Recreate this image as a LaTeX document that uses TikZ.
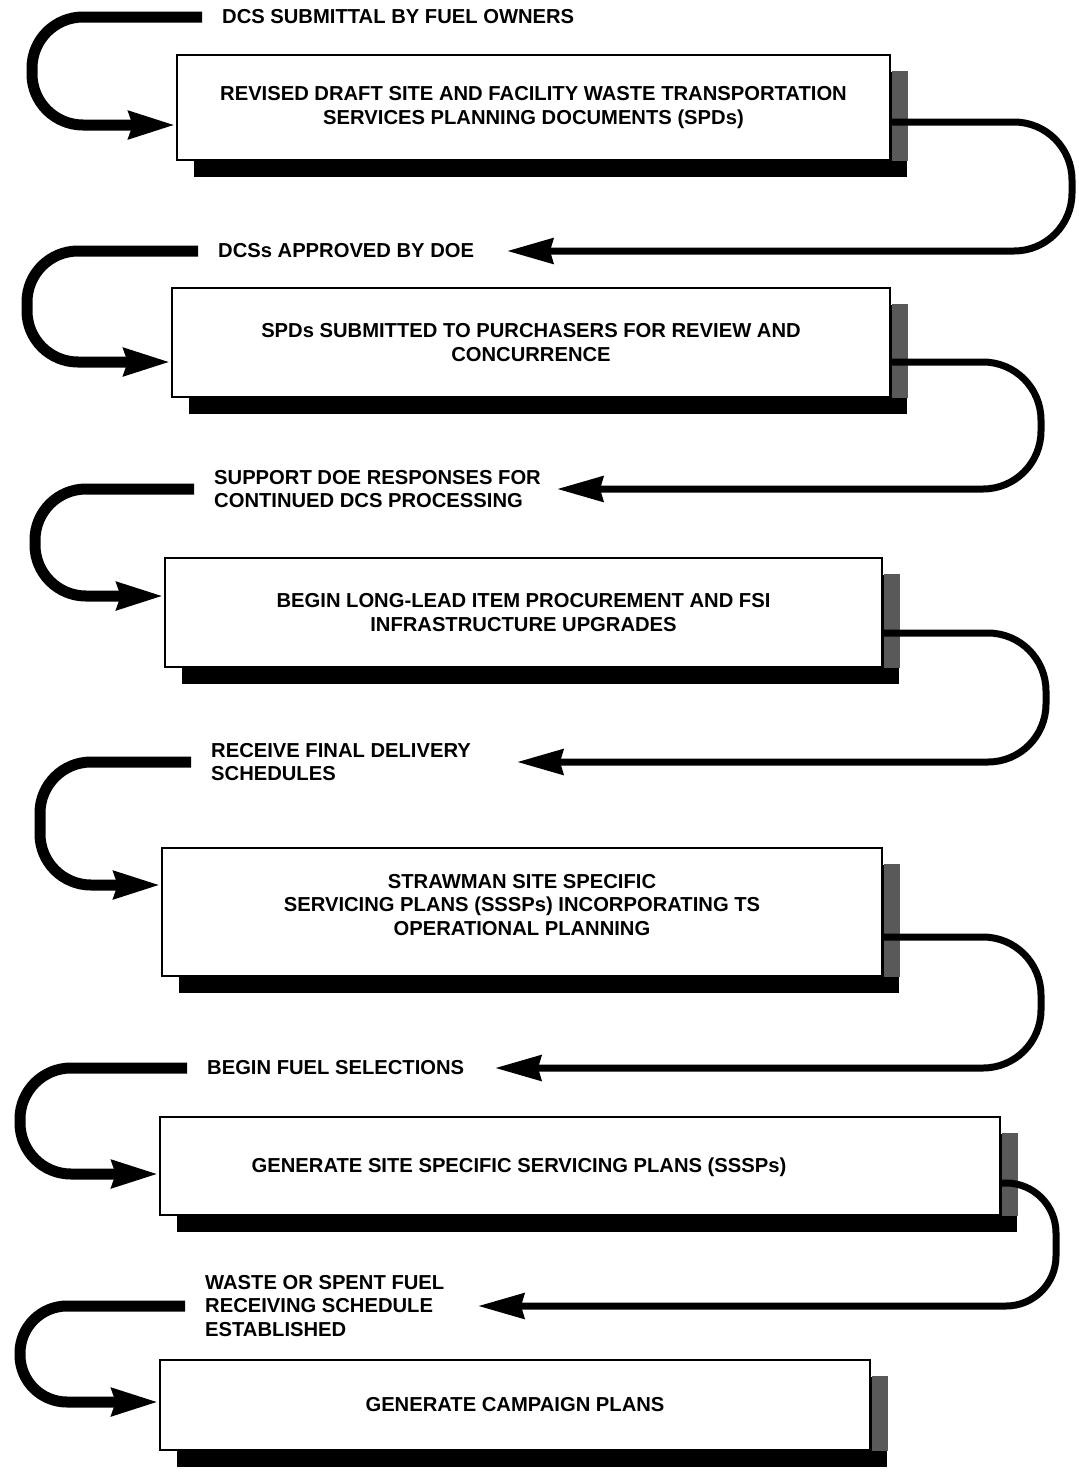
\documentclass[tikz,border=0pt]{standalone}
\usepackage{fontspec}
\newfontfamily\diafont{Liberation Sans}
\usetikzlibrary{arrows.meta,shadows}

\begin{document}
\begin{tikzpicture}[
  x=1pt, y=-1pt,
  font=\diafont\bfseries\fontsize{20.2}{23.5}\selectfont,
  box/.style={draw, line width=2.4pt, fill=white, align=center, inner sep=0pt,
    drop shadow={shadow xshift=17pt, shadow yshift=-17pt, fill=black, opacity=1}},
  strip/.style={fill=black!65},
  lbl/.style={anchor=west, align=left, inner sep=0pt},
  lloop/.style={line width=11pt, rounded corners=51pt, -{Stealth[length=46pt, width=26pt, inset=3pt]}},
  rloop/.style={line width=7pt, rounded corners=58pt, -{Stealth[length=46pt, width=25pt, inset=3pt]}}
]
\useasboundingbox (0,0) rectangle (1079,1473);

% boxes
\node[box, minimum width=713pt, minimum height=105pt] (b1) at (533.5,107.5)
  {REVISED DRAFT SITE AND FACILITY WASTE TRANSPORTATION\\SERVICES PLANNING DOCUMENTS (SPDs)};
\node[box, minimum width=718pt, minimum height=109pt] (b2) at (531,342.5)
  {SPDs SUBMITTED TO PURCHASERS FOR REVIEW AND\\CONCURRENCE};
\node[box, minimum width=717pt, minimum height=109pt] (b3) at (523.5,612.5)
  {BEGIN LONG-LEAD ITEM PROCUREMENT AND FSI\\INFRASTRUCTURE UPGRADES};
\node[box, minimum width=720pt, minimum height=128pt] (b4) at (522,912)
  {STRAWMAN SITE SPECIFIC\\SERVICING PLANS (SSSPs) INCORPORATING TS\\OPERATIONAL PLANNING\\[-8.5pt]};
\node[box, minimum width=840pt, minimum height=98pt] (b5) at (580,1166) {};
\node (t5) at (519,1167) {GENERATE SITE SPECIFIC SERVICING PLANS (SSSPs)};
\node[box, minimum width=710pt, minimum height=90pt] (b6) at (515,1405)
  {GENERATE CAMPAIGN PLANS};

% lighter right-hand part of the shadows
\foreach \b in {b1,b2,b3,b4,b5,b6}
  \fill[strip] ([xshift=1.2pt, yshift=-17pt]\b.north east) rectangle ([xshift=17pt]\b.south east);

% labels between the boxes
\node[lbl] (l1) at (222,17) {DCS SUBMITTAL BY FUEL OWNERS};
\node[lbl] (l2) at (218,251) {DCSs APPROVED BY DOE};
\node[lbl] (l3) at (214,489) {SUPPORT DOE RESPONSES FOR\\CONTINUED DCS PROCESSING};
\node[lbl] (l4) at (211,762) {RECEIVE FINAL DELIVERY\\SCHEDULES};
\node[lbl] (l5) at (207,1068) {BEGIN FUEL SELECTIONS};
\node[lbl] (l6) at (205,1306) {WASTE OR SPENT FUEL\\RECEIVING SCHEDULE\\ESTABLISHED};

% left loops: label -> box
\draw[lloop] ([xshift=-20pt]l1.west) -| (32,125) -- (b1.west |- 0,125);
\draw[lloop] ([xshift=-20pt]l2.west) -| (27,362) -- (b2.west |- 0,362);
\draw[lloop] ([xshift=-20pt]l3.west) -| (35,596) -- (b3.west |- 0,596);
\draw[lloop] ([xshift=-20pt]l4.west) -| (40,885) -- (b4.west |- 0,885);
\draw[lloop] ([xshift=-20pt]l5.west) -| (20,1174) -- (b5.west |- 0,1174);
\draw[lloop, rounded corners=47pt] ([xshift=-20pt]l6.west) -| (20,1402) -- (b6.west |- 0,1402);

% right loops: box -> next label
\draw[rloop] ([yshift=-14.5pt]b1.east) -| (1072,0 |- l2.west) -- (507,0 |- l2.west);
\draw[rloop] ([yshift=-19.5pt]b2.east) -| (1041,0 |- l3.west) -- (557,0 |- l3.west);
\draw[rloop] ([yshift=-20.5pt]b3.east) -| (1046,0 |- l4.west) -- (517,0 |- l4.west);
\draw[rloop] ([yshift=-25pt]b4.east) -| (1041,0 |- l5.west) -- (495,0 |- l5.west);
\draw[rloop, rounded corners=50pt] ([yshift=-17pt]b5.east) -| (1056,0 |- l6.west) -- (478,0 |- l6.west);
\end{tikzpicture}
\end{document}
